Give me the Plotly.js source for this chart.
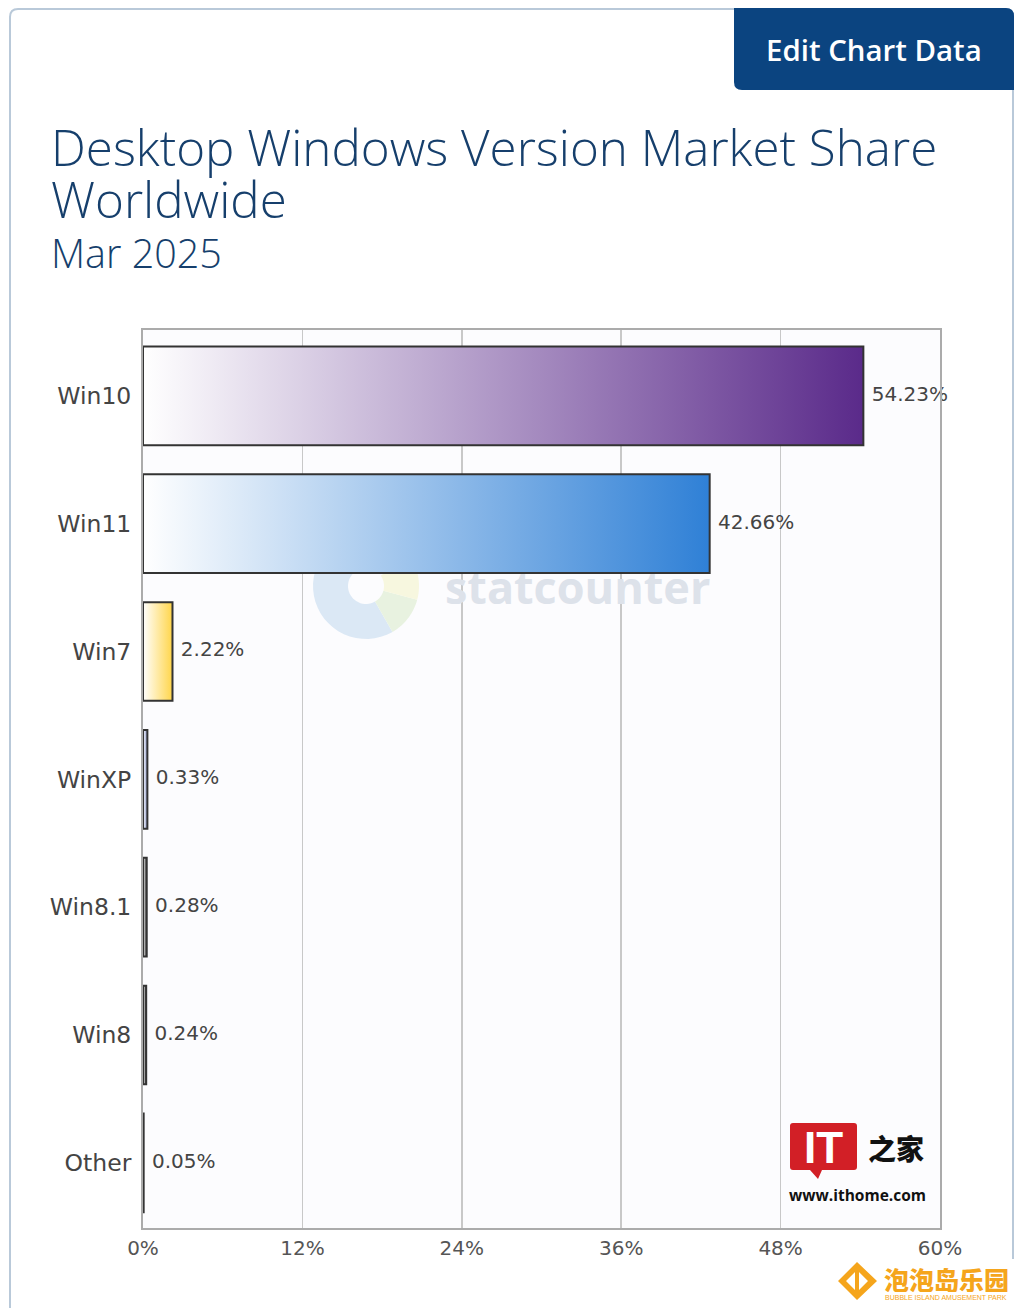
<!DOCTYPE html>
<html>
<head>
<meta charset="utf-8">
<script src="https://cdn.plot.ly/plotly-3.0.1.min.js"></script>
<style>
html,body{margin:0;padding:0;background:#ffffff;}
#chart{width:1024px;height:1308px;}
</style>
</head>
<body>
<div id="chart"></div>
<script>
// ---- data ----
const categories = ["Win10", "Win11", "Win7", "WinXP", "Win8.1", "Win8", "Other"];
const shares = [54.23, 42.66, 2.22, 0.33, 0.28, 0.24, 0.05];
const barColors = ["#5a2a8a", "#2f80d6", "#ffd54a", "#8a96c8", "#3a3a3a", "#3a3a3a", "#3a3a3a"];
const xTickValues = [0, 12, 24, 36, 48, 60];
const xTickLabels = ["0%", "12%", "24%", "36%", "48%", "60%"];

// ---- layout geometry (pixels) ----
const W = 1024, H = 1308;
const ML = 143, MR = 84, MT = 330, MB = 80;
const PW = W - ML - MR, PH = H - MT - MB;
const px = x => (x - ML) / PW;            // pixel -> paper x
const py = y => (H - MB - y) / PH;        // pixel -> paper y
const HALF = 0.386;

const traces = [];
categories.forEach((c, i) => {
  const v = shares[i];
  traces.push({
    type: "scatter",
    mode: "lines",
    name: c,
    x: [0, v, v, 0, 0],
    y: [i - HALF, i - HALF, i + HALF, i + HALF, i - HALF],
    fill: "toself",
    fillgradient: {type: "horizontal", colorscale: [[0, "#ffffff"], [1, barColors[i]]]},
    line: {color: "#333333", width: 2},
    hoverinfo: "skip",
    showlegend: false
  });
});
traces.push({
  type: "scatter",
  mode: "text",
  x: shares,
  y: categories.map((c, i) => i),
  text: shares.map(v => "\u00a0\u200a" + v.toFixed(2) + "%"),
  textposition: "middle right",
  textfont: {family: "DejaVu Sans", size: 20, color: "#444444"},
  cliponaxis: false,
  hoverinfo: "skip",
  showlegend: false
});

// donut watermark points
function ringPath(cx, cy, r0, r1, a0, a1) {
  const n = 30; let pts = [];
  for (let k = 0; k <= n; k++) { const a = (a0 + (a1 - a0) * k / n) * Math.PI / 180; pts.push([cx + r1 * Math.cos(a), cy - r1 * Math.sin(a)]); }
  for (let k = n; k >= 0; k--) { const a = (a0 + (a1 - a0) * k / n) * Math.PI / 180; pts.push([cx + r0 * Math.cos(a), cy - r0 * Math.sin(a)]); }
  return "M" + pts.map(p => px(p[0]).toFixed(5) + "," + py(p[1]).toFixed(5)).join("L") + "Z";
}
function roundRect(x0, y0, x1, y1, r) {
  return `M${px(x0 + r)},${py(y0)} L${px(x1 - r)},${py(y0)} Q${px(x1)},${py(y0)} ${px(x1)},${py(y0 + r)} L${px(x1)},${py(y1 - r)} Q${px(x1)},${py(y1)} ${px(x1 - r)},${py(y1)} L${px(x0 + r)},${py(y1)} Q${px(x0)},${py(y1)} ${px(x0)},${py(y1 - r)} L${px(x0)},${py(y0 + r)} Q${px(x0)},${py(y0)} ${px(x0 + r)},${py(y0)} Z`;
}

const shapes = [
  // outer frame
  {type: "path", xref: "paper", yref: "paper", layer: "below", path: roundRect(10, 9, 1013, 1340, 8), line: {color: "#b9c9d9", width: 2}, fillcolor: "rgba(0,0,0,0)"},
  // button
  {type: "path", xref: "paper", yref: "paper", path: `M${px(734)},${py(8)} L${px(1006)},${py(8)} Q${px(1014)},${py(8)} ${px(1014)},${py(16)} L${px(1014)},${py(90)} L${px(742)},${py(90)} Q${px(734)},${py(90)} ${px(734)},${py(82)} Z`, fillcolor: "#0b4480", line: {width: 0}},
  // statcounter donut watermark
  {type: "path", xref: "paper", yref: "paper", layer: "below", path: ringPath(366, 586, 18, 53, 95, 300), fillcolor: "#dbe8f5", line: {width: 0}},
  {type: "path", xref: "paper", yref: "paper", layer: "below", path: ringPath(366, 586, 18, 53, 300, 345), fillcolor: "#e8f2e0", line: {width: 0}},
  {type: "path", xref: "paper", yref: "paper", layer: "below", path: ringPath(366, 586, 18, 53, 345, 395), fillcolor: "#f7f7df", line: {width: 0}},
  // ithome logo red box
  {type: "path", xref: "paper", yref: "paper", path: `M${px(793)},${py(1123)} L${px(854)},${py(1123)} Q${px(857)},${py(1123)} ${px(857)},${py(1126)} L${px(857)},${py(1167)} Q${px(857)},${py(1170)} ${px(854)},${py(1170)} L${px(822)},${py(1170)} L${px(818)},${py(1179)} L${px(810)},${py(1170)} L${px(793)},${py(1170)} Q${px(790)},${py(1170)} ${px(790)},${py(1167)} L${px(790)},${py(1126)} Q${px(790)},${py(1123)} ${px(793)},${py(1123)} Z`, fillcolor: "#d21f26", line: {width: 0}},
  // bubble island white box
  {type: "rect", xref: "paper", yref: "paper", x0: px(825), x1: px(1024), y0: py(1259), y1: py(1308), fillcolor: "#ffffff", line: {width: 0}},
  // bubble island diamond logo
  {type: "path", xref: "paper", yref: "paper", path: `M${px(857)},${py(1262)} L${px(877)},${py(1281)} L${px(857)},${py(1300)} L${px(838)},${py(1281)} Z M${px(857)},${py(1270)} L${px(846)},${py(1281)} L${px(857)},${py(1292)} L${px(868)},${py(1281)} Z`, fillcolor: "#f5a51c", line: {width: 0}},
  {type: "rect", xref: "paper", yref: "paper", x0: px(855), x1: px(859), y0: py(1268), y1: py(1294), fillcolor: "#f5a51c", line: {width: 0}}
];

const titleColor = "#163f6c";
const annotations = [
  {xref: "paper", yref: "paper", x: px(874), y: py(50), text: "Edit Chart Data", showarrow: false, xanchor: "center", yanchor: "middle",
   font: {family: "Open Sans", size: 29.4, color: "#ffffff", weight: 600}},
  {xref: "paper", yref: "paper", x: px(49), y: py(146), height: 63, valign: "middle", text: "Desktop Windows Version Market Share", showarrow: false, xanchor: "left", yanchor: "middle",
   font: {family: "Open Sans", size: 49.3, color: titleColor, weight: 300}},
  {xref: "paper", yref: "paper", x: px(49), y: py(199), height: 41, valign: "middle", text: "Worldwide", showarrow: false, xanchor: "left", yanchor: "middle",
   font: {family: "Open Sans", size: 49.3, color: titleColor, weight: 300}},
  {xref: "paper", yref: "paper", x: px(49), y: py(252.7), height: 33, valign: "middle", text: "Mar 2025", showarrow: false, xanchor: "left", yanchor: "middle",
   font: {family: "Open Sans", size: 39.5, color: titleColor, weight: 300}},
  // statcounter watermark
  {xref: "paper", yref: "paper", x: px(443), y: py(586), text: "statcounter", showarrow: false, xanchor: "left", yanchor: "middle",
   font: {family: "Open Sans", size: 45, color: "#dde2ea", weight: 700}},
  // ithome
  {xref: "paper", yref: "paper", x: px(823), y: py(1147), text: "IT", showarrow: false, xanchor: "center", yanchor: "middle",
   font: {family: "Liberation Sans", size: 44, color: "#ffffff", weight: 700}},
  {xref: "paper", yref: "paper", x: px(896), y: py(1148), text: "之家", showarrow: false, xanchor: "center", yanchor: "middle",
   font: {family: "Noto Sans CJK SC", size: 28, color: "#111111", weight: 900}},
  {xref: "paper", yref: "paper", x: px(857), y: py(1195), text: "www.ithome.com", showarrow: false, xanchor: "center", yanchor: "middle",
   font: {family: "Open Sans", size: 15.5, color: "#111111", weight: 700}},
  // bubble island
  {xref: "paper", yref: "paper", x: px(946.5), y: py(1278), height: 27, valign: "middle", text: "泡泡岛乐园", showarrow: false, xanchor: "center", yanchor: "middle",
   font: {family: "Noto Sans CJK SC", size: 25, color: "#f5a51c", weight: 900}},
  {xref: "paper", yref: "paper", x: px(946), y: py(1297), text: "BUBBLE ISLAND AMUSEMENT PARK", showarrow: false, xanchor: "center", yanchor: "middle",
   font: {family: "Liberation Sans", size: 7, color: "#f5a51c"}}
];

const layout = {
  width: W, height: H,
  margin: {l: ML, r: MR, t: MT, b: MB, pad: 0},
  paper_bgcolor: "#ffffff",
  plot_bgcolor: "#fcfcfe",
  showlegend: false,
  xaxis: {
    range: [0, 60], tickvals: xTickValues, ticktext: xTickLabels,
    showgrid: true, gridcolor: "#c8c8c8", gridwidth: 1.5,
    zeroline: false, showline: true, mirror: true, linecolor: "#ababab", linewidth: 2,
    ticks: "", ticklabelstandoff: 1,
    tickfont: {family: "DejaVu Sans", size: 20, color: "#555555"},
    fixedrange: true
  },
  yaxis: {
    range: [6.51, -0.515], tickvals: categories.map((c, i) => i), ticktext: categories,
    showgrid: false, zeroline: false, showline: true, mirror: true, linecolor: "#ababab", linewidth: 2,
    ticks: "", ticklabelstandoff: 5,
    tickfont: {family: "DejaVu Sans", size: 23.5, color: "#444444"},
    fixedrange: true
  },
  shapes: shapes,
  annotations: annotations
};

Plotly.newPlot("chart", traces, layout, {staticPlot: true, displayModeBar: false});
</script>
</body>
</html>
